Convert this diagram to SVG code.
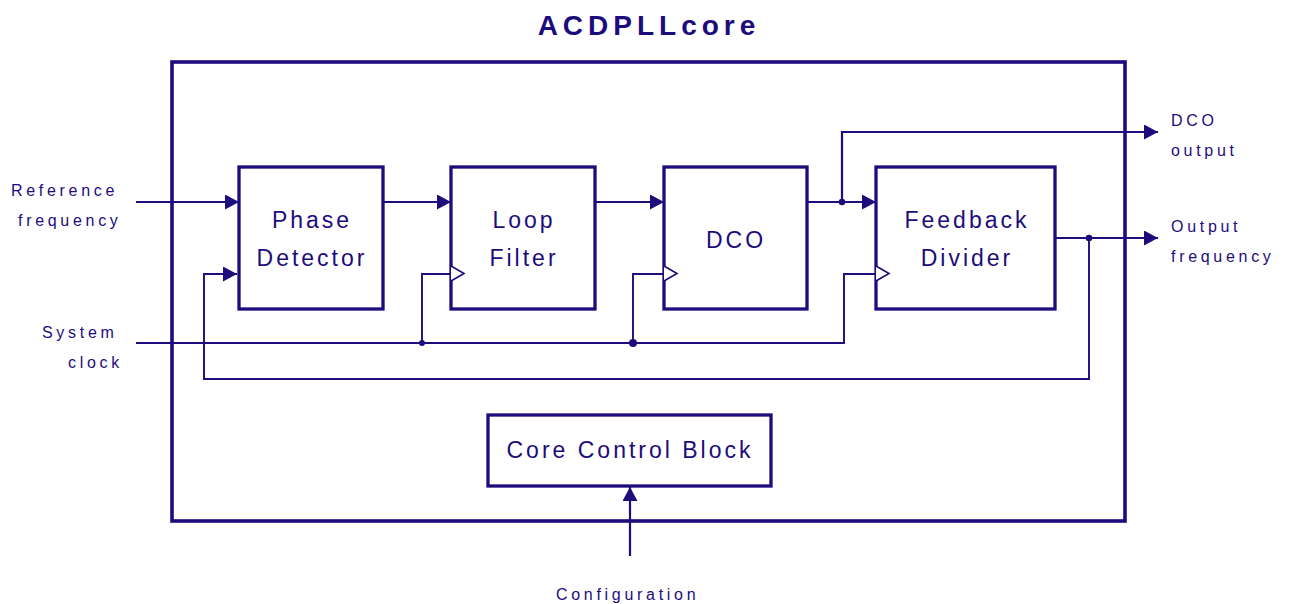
<svg xmlns="http://www.w3.org/2000/svg" width="1290" height="604" viewBox="0 0 1290 604">
<defs>
<marker id="arr" markerUnits="userSpaceOnUse" markerWidth="15" markerHeight="16" refX="14" refY="7.5" orient="auto"><path d="M0,0 L14,7.5 L0,15 z" fill="#1c0c7c"/></marker>
<style>
.blk{fill:#fff;stroke:#1c0c7c;stroke-width:3.3}
.ln{fill:none;stroke:#1c0c7c;stroke-width:2.2}
.fb{fill:none;stroke:#1c0c7c;stroke-width:1.9}
.clk{fill:#fff;stroke:#1c0c7c;stroke-width:1.6}
.dot{fill:#1c0c7c}
.bt{font-family:"Liberation Sans",Arial,sans-serif;font-size:23px;letter-spacing:3px;fill:#1c0c7c;text-anchor:middle}
.lb{font-family:"Liberation Sans",Arial,sans-serif;font-size:16px;letter-spacing:3.7px;fill:#1c0c7c}
</style>
</defs>
<rect width="1290" height="604" fill="#fff"/>
<text x="649" y="35" font-family="Liberation Sans,Arial,sans-serif" font-weight="bold" font-size="28" letter-spacing="5" fill="#1c0c7c" text-anchor="middle">ACDPLLcore</text>
<g id="core"><rect x="172" y="62" width="953" height="459" fill="none" stroke="#1c0c7c" stroke-width="3.6"/></g>
<g id="connectors">
<path class="ln" d="M136,202 H239" marker-end="url(#arr)"/>
<path class="ln" d="M383,202 H451" marker-end="url(#arr)"/>
<path class="ln" d="M595,202 H664" marker-end="url(#arr)"/>
<path class="ln" d="M807,202 H876" marker-end="url(#arr)"/>
<path class="ln" d="M842,202 V132 H1158" marker-end="url(#arr)"/>
<path class="ln" d="M1056,238 H1158" marker-end="url(#arr)"/>
<path class="fb" d="M1089,238 V379 H204 V274 H237" marker-end="url(#arr)"/>
<path class="fb" d="M136,343 H844 V274 H876"/>
<path class="fb" d="M422,343 V274 H451"/>
<path class="fb" d="M633,343 V274 H664"/>
<path class="ln" d="M630,556 V487" marker-end="url(#arr)"/>
<circle class="dot" cx="842" cy="202" r="3.3"/>
<circle class="dot" cx="1089" cy="238" r="3.3"/>
<circle class="dot" cx="422" cy="343" r="3"/>
<circle class="dot" cx="633" cy="343" r="4"/>
</g>
<g id="phase-detector"><rect class="blk" x="239" y="167" width="144" height="142"/><text class="bt" x="312" y="228">Phase</text><text class="bt" x="312" y="266">Detector</text></g>
<g id="loop-filter"><rect class="blk" x="451" y="167" width="144" height="142"/><path class="clk" d="M451,266 L464,273.5 L451,281"/><text class="bt" x="524" y="228">Loop</text><text class="bt" x="524" y="266">Filter</text></g>
<g id="dco"><rect class="blk" x="664" y="167" width="143" height="142"/><path class="clk" d="M664,266 L677,273.5 L664,281"/><text class="bt" x="736" y="248">DCO</text></g>
<g id="feedback-divider"><rect class="blk" x="876" y="167" width="179" height="142"/><path class="clk" d="M876,266 L889,273.5 L876,281"/><text class="bt" x="967" y="228">Feedback</text><text class="bt" x="967" y="266">Divider</text></g>
<g id="core-control-block"><rect class="blk" x="488" y="415" width="283" height="71"/><text class="bt" x="630" y="458" letter-spacing="3.4">Core Control Block</text></g>
<g id="labels">
<text class="lb" x="11" y="196" letter-spacing="4.2">Reference</text>
<text class="lb" x="18" y="226" letter-spacing="3.7">frequency</text>
<text class="lb" x="42" y="338" letter-spacing="4.7">System</text>
<text class="lb" x="68" y="368" letter-spacing="4">clock</text>
<text class="lb" x="1171" y="126" letter-spacing="7">DCO</text>
<text class="lb" x="1171" y="156" letter-spacing="4.1">output</text>
<text class="lb" x="1171" y="232" letter-spacing="4.5">Output</text>
<text class="lb" x="1171" y="262" letter-spacing="3.9">frequency</text>
<text class="lb" x="556" y="600" letter-spacing="3">Configuration</text>
</g>
</svg>
